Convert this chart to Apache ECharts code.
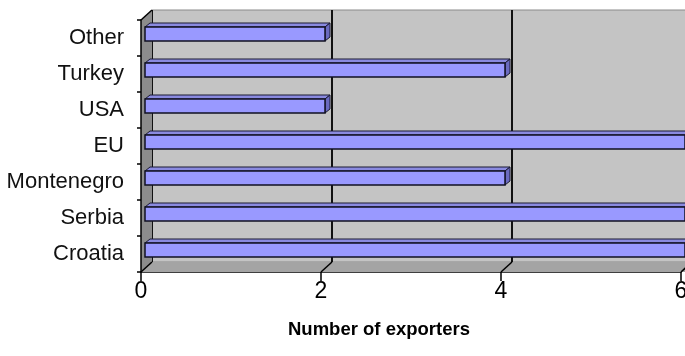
<!DOCTYPE html>
<html><head><meta charset="utf-8">
<script src="https://cdn.jsdelivr.net/npm/echarts/dist/echarts.min.js"></script>
<style>html,body{margin:0;padding:0;background:#fff}#c{width:685px;height:356px}</style>
</head><body><div id="c"></div>
<script>
const categories = ['Croatia', 'Serbia', 'Montenegro', 'EU', 'USA', 'Turkey', 'Other'];
const exporters = [6, 6, 4, 6, 2, 4, 2];
const xTicks = [0, 2, 4, 6];
const axisTitle = 'Number of exporters';

const DX = 11, DY = -10;   // back wall offset
const BD = 4;              // bar front-face depth offset
const BSX = 5, BSY = 4;    // bar side depth
const BH = 14;             // bar front-face height
const FONT = 'Liberation Sans, Arial, sans-serif';

function renderWalls(params, api) {
  const cs = params.coordSys;
  const L = cs.x, T = cs.y, R = cs.x + cs.width, B = cs.y + cs.height;
  const ch = [
    { type: 'polygon', shape: { points: [[L, B], [L + DX, B + DY], [R + DX + 40, B + DY], [R + 40, B]] },
      style: { fill: '#a4a4a4' } },
    { type: 'polygon', shape: { points: [[L, T], [L + DX, T + DY], [L + DX, B + DY], [L, B]] },
      style: { fill: '#8c8c8c' } },
    { type: 'line', shape: { x1: L, y1: T, x2: L + DX, y2: T + DY }, style: { stroke: '#000', lineWidth: 1.5 } }
  ];
  xTicks.forEach(t => {
    const x = api.coord([t, 0])[0];
    ch.push({ type: 'line', shape: { x1: x, y1: B, x2: x + DX, y2: B + DY }, style: { stroke: '#000', lineWidth: 1.5 } });
  });
  return { type: 'group', children: ch };
}

function renderBar(params, api) {
  const v = api.value(0), c = api.value(1);
  const a = api.coord([0, c]), b = api.coord([v, c]);
  const x0 = a[0] + BD, x1 = b[0] + BD, yc = a[1] - BD;
  const y0 = yc - BH / 2, y1 = yc + BH / 2;
  return { type: 'group', children: [
    { type: 'polygon', shape: { points: [[x0, y0], [x0 + BSX, y0 - BSY], [x1 + BSX, y0 - BSY], [x1, y0]] },
      style: { fill: '#8a8ae0', stroke: '#1a1a33', lineWidth: 1 } },
    { type: 'polygon', shape: { points: [[x1, y0], [x1 + BSX, y0 - BSY], [x1 + BSX, y1 - BSY], [x1, y1]] },
      style: { fill: '#6a6ac0', stroke: '#1a1a33', lineWidth: 1 } },
    { type: 'rect', shape: { x: x0, y: y0, width: x1 - x0, height: y1 - y0 },
      style: { fill: '#9999ff', stroke: '#111122', lineWidth: 1.5 } }
  ] };
}

const chart = echarts.init(document.getElementById('c'), null, { renderer: 'canvas' });
chart.setOption({
  animation: false,
  title: { text: axisTitle, left: 283, top: 315,
    textStyle: { fontFamily: FONT, fontSize: 18.5, fontWeight: 'bold', color: '#000' } },
  grid: [
    { left: 141, right: 4, top: 20, bottom: 84, outerBoundsMode: 'none' },
    { left: 141 + DX, right: 4 - DX, top: 20 + DY, bottom: 84 - DY, show: true, outerBoundsMode: 'none',
      backgroundColor: '#c4c4c4', borderColor: '#8a8a8a', borderWidth: 1, z: 0 }
  ],
  xAxis: [
    { type: 'value', gridIndex: 0, min: 0, max: 6, interval: 2,
      axisLine: { show: true, lineStyle: { color: '#000', width: 1.5 } },
      axisTick: { show: true, length: 9, lineStyle: { color: '#000', width: 1.5 } },
      splitLine: { show: false },
      axisLabel: { color: '#000', fontFamily: FONT, fontSize: 23, margin: 8, alignMaxLabel: 'center', alignMinLabel: 'center' } },
    { type: 'value', gridIndex: 1, min: 0, max: 6, interval: 2,
      axisLine: { show: false }, axisTick: { show: false }, axisLabel: { show: false },
      splitLine: { show: true, lineStyle: { color: '#111', width: 2 } } }
  ],
  yAxis: [
    { type: 'category', gridIndex: 0, data: categories,
      axisLine: { show: true, lineStyle: { color: '#000', width: 1.5 } },
      axisTick: { show: true, length: 4, lineStyle: { color: '#000', width: 1.5 } },
      axisLabel: { color: '#111', fontFamily: FONT, fontSize: 22, margin: 17 },
      z: 5 },
    { type: 'category', gridIndex: 1, data: categories, show: false }
  ],
  series: [
    { type: 'custom', xAxisIndex: 0, yAxisIndex: 0, data: [[0, 0]], renderItem: renderWalls, z: 1, silent: true },
    { type: 'custom', name: axisTitle, xAxisIndex: 0, yAxisIndex: 0,
      data: exporters.map((v, i) => [v, i]), encode: { x: 0, y: 1 },
      renderItem: renderBar, z: 3, clip: false }
  ]
});
</script>
</body></html>
